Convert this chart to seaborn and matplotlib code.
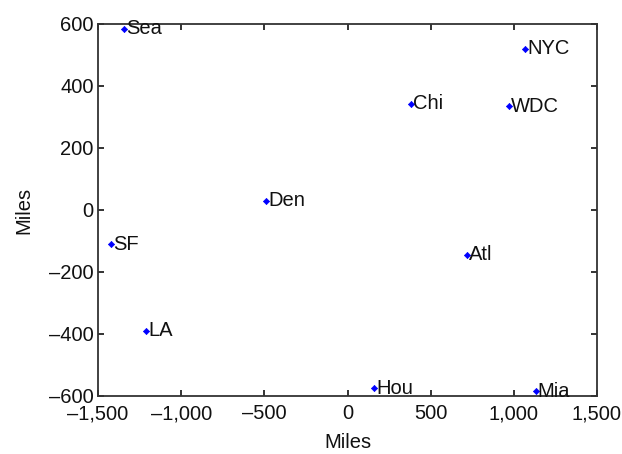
import matplotlib
matplotlib.use("Agg")
import matplotlib.pyplot as plt
import matplotlib.ticker as mticker
import seaborn as sns
import pandas as pd

# MDS coordinates of US cities (miles)
cities = ['Atl', 'Chi', 'Den', 'Hou', 'LA', 'Mia', 'NYC', 'SF', 'Sea', 'WDC']
x_miles = [716, 379, -490, 159, -1212, 1132, 1070, -1422, -1344, 972]
y_miles = [-145, 343, 29, -575, -389, -585, 520, -111, 584, 335]

df = pd.DataFrame({'city': cities, 'x': x_miles, 'y': y_miles})

sns.set_style("ticks")
plt.rcParams['font.family'] = ['Liberation Sans', 'DejaVu Sans']

fig = plt.figure(figsize=(6.22, 4.54), dpi=100)
ax = fig.add_axes([0.1576, 0.1278, 0.8022, 0.8194])

sns.scatterplot(data=df, x='x', y='y', marker='D', s=10, color='#0000ff',
                edgecolor='#0000ff', linewidth=0.5, ax=ax, zorder=3)

for _, row in df.iterrows():
    ax.annotate(row['city'], (row['x'], row['y']), xytext=(1.5, 0),
                textcoords='offset points', va='center', ha='left',
                fontsize=14.5, color='#111111')

ax.set_xlim(-1500, 1500)
ax.set_ylim(-600, 600)
ax.set_xticks([-1500, -1000, -500, 0, 500, 1000, 1500])
ax.set_yticks([-600, -400, -200, 0, 200, 400, 600])

def fmt(v, pos):
    s = f"{abs(int(v)):,}"
    return ("\u2013" + s) if v < 0 else s

ax.xaxis.set_major_formatter(mticker.FuncFormatter(fmt))
ax.yaxis.set_major_formatter(mticker.FuncFormatter(fmt))

ax.tick_params(direction='in', length=4, width=1.2, top=True, right=True,
               labelsize=14.5, colors='#111111', pad=3)
ax.tick_params(axis='x', pad=6)
for sp in ax.spines.values():
    sp.set_visible(True)
    sp.set_linewidth(1.3)
    sp.set_color('#333333')

ax.set_xlabel('Miles', fontsize=14.5, color='#111111', labelpad=7)
ax.set_ylabel('Miles', fontsize=14.5, color='#111111', labelpad=11)

fig.savefig('out.png', dpi=100)
